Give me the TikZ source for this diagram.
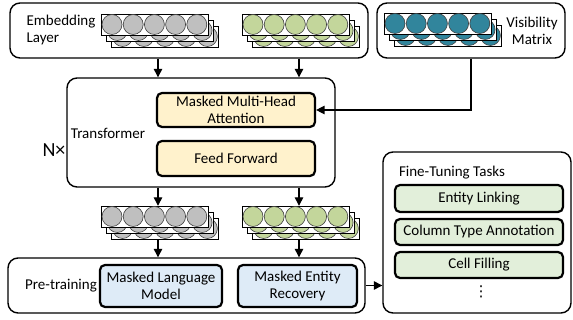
\documentclass[tikz,border=0pt]{standalone}
\usepackage{fontspec}
\setmainfont{Carlito}
\newfontfamily\symfont{DejaVu Sans}
\usetikzlibrary{arrows.meta}

\definecolor{tokgray}{HTML}{BFBFBF}
\definecolor{tokgreen}{HTML}{C3D69B}
\definecolor{tokteal}{HTML}{31859C}
\definecolor{boxyellow}{HTML}{FFF2CC}
\definecolor{boxblue}{HTML}{DEEBF7}
\definecolor{boxgreen}{HTML}{E2EFDA}

% stack of three token rows: name, left x, top y, colour
\newcommand{\tokenstack}[4]{%
	\foreach \d in {2,1,0}{
		\draw[line width=0.7pt, fill=white] (#2+5.3*\d, #3+6*\d) rectangle ++(107,21);
		\foreach \i in {0,...,4}
			\draw[line width=0.6pt, draw=black!75, fill=#4] (#2+5.3*\d+11+21.2*\i, #3+6*\d+10.5) circle (10pt);
	}
	\node (#1) at (#2+57, #3+16.5) [minimum width=110pt, minimum height=33pt, inner sep=0pt]{};
}

\begin{document}
\begin{tikzpicture}[x=1pt, y=-1pt,
	font=\fontsize{15}{17}\selectfont,
	outerbox/.style={draw, line width=1.4pt, rounded corners=10pt, inner sep=0pt},
	innerbox/.style={draw, line width=2.2pt, rounded corners=5pt, inner sep=0pt, align=center},
	link/.style={line width=1.3pt, -{Triangle[width=8.5pt, length=8.5pt]}}]
	\useasboundingbox (0,0) rectangle (573,320);
	
	%Boxes
	\node (embBox) at (189,30.5) [outerbox, minimum width=358pt, minimum height=55pt]{};
	\node (visBox) at (471,30.5) [outerbox, minimum width=188pt, minimum height=55pt]{};
	\node (transBox) at (201,132.5) [outerbox, minimum width=268pt, minimum height=109pt]{};
	\node (preBox) at (186.5,285.5) [outerbox, minimum width=357pt, minimum height=55pt]{};
	\node (fineBox) at (477,232.5) [outerbox, minimum width=188pt, minimum height=161pt]{};
	
	%Labels
	\node (embLabel) at (61,30.5) [align=left]{Embedding\\Layer};
	\node (visLabel) at (532,30.5) [align=center]{Visibility\\Matrix};
	\node (transLabel) at (108,133) {Transformer};
	\node (nLabel) at (54,150) [font=\fontsize{20}{22}\selectfont]{N×};
	\node (preLabel) at (61,285.5) {Pre-training};
	\node (fineLabel) at (452,173) {Fine-Tuning Tasks};
	
	%Tokens
	\tokenstack{embGray}{101}{14}{tokgray}
	\tokenstack{embGreen}{242}{14}{tokgreen}
	\tokenstack{visTeal}{384}{13}{tokteal}
	\tokenstack{outGray}{101}{206}{tokgray}
	\tokenstack{outGreen}{242}{206}{tokgreen}
	
	%Transformer layers
	\node (attention) at (236,110) [innerbox, fill=boxyellow, minimum width=158pt, minimum height=34pt]{Masked Multi-Head\\Attention};
	\node (feedForward) at (236,158.5) [innerbox, fill=boxyellow, minimum width=158pt, minimum height=35pt]{Feed Forward};
	
	%Pre-training objectives
	\node (mlm) at (161,286) [innerbox, fill=boxblue, minimum width=122pt, minimum height=42pt]{Masked Language\\Model};
	\node (mer) at (297.5,286) [innerbox, fill=boxblue, minimum width=119pt, minimum height=42pt]{Masked Entity\\Recovery};
	
	%Fine-tuning tasks
	\node (entityLinking) at (479,198.5) [innerbox, fill=boxgreen, minimum width=168pt, minimum height=27pt]{Entity Linking};
	\node (columnType) at (479,232) [innerbox, fill=boxgreen, minimum width=168pt, minimum height=26pt]{Column Type Annotation};
	\node (cellFilling) at (479,265) [innerbox, fill=boxgreen, minimum width=168pt, minimum height=26pt]{Cell Filling};
	\node (moreTasks) at (481,292) [font=\symfont\fontsize{15}{17}\selectfont]{⋮};
	
	%Links
	\draw[link] (embGray.south |- embBox.south) -- (embGray.south |- transBox.north);
	\draw[link] (embGreen.south |- embBox.south) -- (embGreen.south |- transBox.north);
	\draw[link] (visBox.south) |- (attention.east);
	\draw[link] (outGray.north |- transBox.south) -- (outGray.north);
	\draw[link] (outGreen.north |- transBox.south) -- (outGreen.north);
	\draw[link] (outGray.south) -- (outGray.south |- preBox.north);
	\draw[link] (outGreen.south) -- (outGreen.south |- preBox.north);
	\draw[link] (preBox.east) -- (preBox.east -| fineBox.west);
	
\end{tikzpicture}
\end{document}
